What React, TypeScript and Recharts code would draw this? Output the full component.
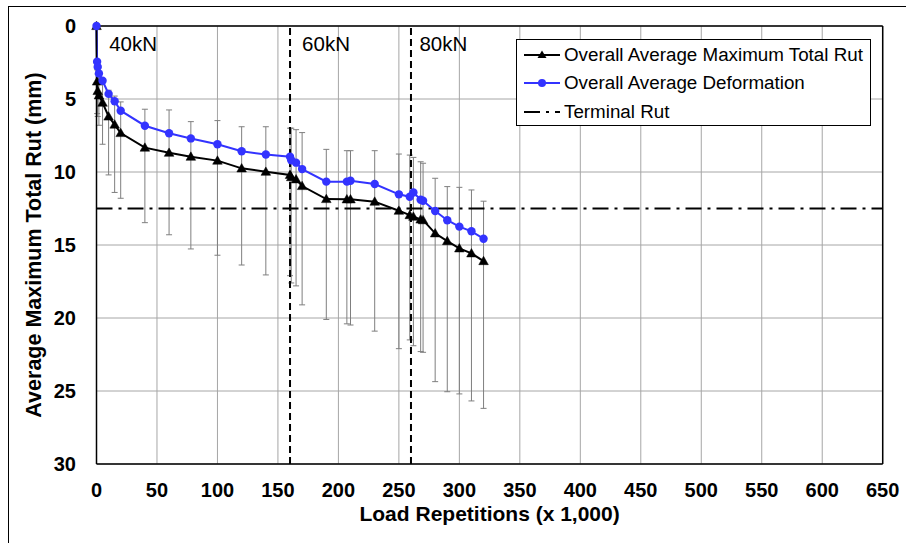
import React from 'react';
import {
  LineChart,
  Line,
  XAxis,
  YAxis,
  CartesianGrid,
  ReferenceLine,
  ReferenceDot,
  ErrorBar,
} from 'recharts';

// Load repetitions (x 1,000)
const loadReps = [0, 0.5, 1, 2, 5, 10, 15, 20, 40, 60, 78, 100, 120, 140, 160, 161, 165, 170, 190, 207, 210, 230, 250, 259, 262, 268, 270, 280, 290, 300, 310, 320];
// Overall Average Maximum Total Rut (mm)
const maxTotalRut = [0, 3.8, 4.45, 4.75, 5.25, 6.2, 6.75, 7.33, 8.33, 8.68, 8.95, 9.22, 9.75, 9.98, 10.2, 10.35, 10.5, 10.96, 11.85, 11.87, 11.87, 12.03, 12.65, 12.95, 13.06, 13.25, 13.3, 14.2, 14.73, 15.23, 15.57, 16.1];
// Overall Average Deformation (mm)
const avgDeformation = [0, 2.45, 2.8, 3.25, 3.75, 4.65, 5.15, 5.8, 6.83, 7.35, 7.7, 8.1, 8.58, 8.8, 8.95, 9.2, 9.36, 9.8, 10.66, 10.66, 10.6, 10.82, 11.53, 11.7, 11.4, 11.9, 11.97, 12.67, 13.3, 13.74, 14.06, 14.57];
// error bar extents (mm)
const errTop = [0, 3.0, 3.3, 3.5, 3.6, 4.4, 4.8, 5.2, 5.7, 5.75, 6.55, 6.48, 6.9, 6.9, 7.0, 7.0, 7.1, 7.3, 8.45, 8.54, 8.54, 8.54, 8.77, 8.84, 9.0, 9.3, 9.4, 10.43, 11.0, 11.05, 11.23, 12.0];
const errBottom = [0, 6.0, 6.2, 6.8, 8.1, 10.2, 11.4, 11.8, 13.47, 14.3, 15.27, 15.7, 16.37, 17.05, 17.1, 17.6, 17.8, 19.1, 20.1, 20.4, 20.48, 20.9, 22.1, 21.5, 21.9, 22.3, 22.35, 24.36, 25.05, 25.2, 25.68, 26.19];

const xTicks = [0, 50, 100, 150, 200, 250, 300, 350, 400, 450, 500, 550, 600, 650];
const yTicks = [0, 5, 10, 15, 20, 25, 30];
const terminalRut = 12.5;
const stageBoundaries = [160, 260];
const stageLabels = ['40kN', '60kN', '80kN'];
const stageLabelX = [10.5, 170, 267];
const stageLabelY = 1.23;

const seriesNames = ['Overall Average Maximum Total Rut', 'Overall Average Deformation', 'Terminal Rut'];

const BLUE = '#3333ff';
const FONT = '"Liberation Sans", Arial, sans-serif';
const DASHDOT = '16 6 3 6';

const data = loadReps.map((x, i) => ({
  x,
  rut: maxTotalRut[i],
  def: avgDeformation[i],
  err: [maxTotalRut[i] - errTop[i], errBottom[i] - maxTotalRut[i]],
}));

const TriangleDot = (props: any) => {
  const { cx, cy, index } = props;
  if (cx == null || cy == null) return <g key={`t-${index}`} />;
  const s = 4.8;
  return (
    <polygon
      key={`t-${index}`}
      points={`${cx},${cy - s} ${cx - s},${cy + s * 0.75} ${cx + s},${cy + s * 0.75}`}
      fill="#000"
      stroke="#000"
      strokeWidth={0.5}
    />
  );
};

const LegendBox = () => {
  const rows = [
    { label: seriesNames[0], kind: 'tri' },
    { label: seriesNames[1], kind: 'circ' },
    { label: seriesNames[2], kind: 'dash' },
  ];
  return (
    <div
      style={{
        position: 'absolute',
        left: 516,
        top: 39,
        width: 355,
        height: 87,
        boxSizing: 'border-box',
        border: '1px solid #000',
        background: '#fff',
        paddingTop: 1,
        paddingLeft: 7,
        fontFamily: FONT,
      }}
    >
      {rows.map((r) => (
        <div key={r.label} style={{ height: 28.3, display: 'flex', alignItems: 'center' }}>
          <svg width={36} height={20} style={{ display: 'block' }}>
            {r.kind === 'dash' ? (
              <line x1={0} y1={10} x2={36} y2={10} stroke="#000" strokeWidth={2} strokeDasharray="16 6 3 6" />
            ) : (
              <line x1={0} y1={10} x2={36} y2={10} stroke={r.kind === 'circ' ? BLUE : '#000'} strokeWidth={2} />
            )}
            {r.kind === 'tri' && <polygon points="18,5.5 13.5,13 22.5,13" fill="#000" />}
            {r.kind === 'circ' && <circle cx={18} cy={10} r={4} fill={BLUE} />}
          </svg>
          <span style={{ fontSize: 18.8, color: '#000', marginLeft: 4, whiteSpace: 'nowrap', lineHeight: '20px' }}>{r.label}</span>
        </div>
      ))}
    </div>
  );
};

export default function App() {
  return (
    <div style={{ position: 'absolute', left: 0, top: 0, width: 906, height: 543, background: '#fff' }}>
      <div
        style={{
          position: 'absolute',
          left: 8,
          top: 6,
          width: 898,
          height: 537,
          boxSizing: 'border-box',
          borderLeft: '1px solid #000',
          borderTop: '1px solid #000',
        }}
      />
      <LineChart
        width={906}
        height={543}
        data={data}
        margin={{ top: 26, right: 23.3, bottom: 19, left: 8 }}
        style={{ fontFamily: FONT }}
      >
        <CartesianGrid stroke="#a6a6a6" strokeWidth={1} />
        <XAxis
          dataKey="x"
          type="number"
          domain={[0, 650]}
          ticks={xTicks}
          interval={0}
          tickLine={false}
          tickSize={6}
          tickMargin={13}
          height={60}
          axisLine={{ stroke: '#000', strokeWidth: 1.5 }}
          tick={{ fill: '#000', fontSize: 20, fontWeight: 'bold', fontFamily: FONT }}
          label={{
            value: 'Load Repetitions (x 1,000)',
            position: 'insideBottom',
            offset: 3,
            fill: '#000',
            fontSize: 21,
            fontWeight: 'bold',
            fontFamily: FONT,
          }}
        />
        <YAxis
          type="number"
          reversed
          domain={[0, 30]}
          ticks={yTicks}
          interval={0}
          tickLine={false}
          tickSize={6}
          tickMargin={14.5}
          width={88.5}
          axisLine={{ stroke: '#000', strokeWidth: 1.5 }}
          tick={{ fill: '#000', fontSize: 20, fontWeight: 'bold', fontFamily: FONT }}
          label={{
            value: 'Average Maximum Total Rut (mm)',
            angle: -90,
            position: 'insideLeft',
            offset: 25,
            fill: '#000',
            fontSize: 21.5,
            fontWeight: 'bold',
            fontFamily: FONT,
            style: { textAnchor: 'middle' },
          }}
        />
        <ReferenceLine y={0} stroke="#000" strokeWidth={1.5} />
        <ReferenceLine x={650} stroke="#000" strokeWidth={1.5} />
        <Line
          dataKey="rut"
          stroke="none"
          dot={false}
          activeDot={false}
          legendType="none"
          isAnimationActive={false}
        >
          <ErrorBar dataKey="err" direction="y" width={3} stroke="#7f7f7f" strokeWidth={1} />
        </Line>
        {stageBoundaries.map((b) => (
          <ReferenceLine key={b} x={b} stroke="#000" strokeWidth={2} strokeDasharray="7 4" />
        ))}
        <ReferenceLine y={terminalRut} stroke="#000" strokeWidth={2} strokeDasharray={DASHDOT} />
        <Line
          dataKey="rut"
          name={seriesNames[0]}
          stroke="#000"
          strokeWidth={2}
          dot={TriangleDot}
          activeDot={false}
          isAnimationActive={false}
        />
        <Line
          dataKey="def"
          name={seriesNames[1]}
          stroke={BLUE}
          strokeWidth={2}
          dot={{ r: 4.2, fill: BLUE, stroke: BLUE, strokeWidth: 0 }}
          activeDot={false}
          isAnimationActive={false}
        />
        {stageLabels.map((lab, i) => (
          <ReferenceDot
            key={lab}
            x={stageLabelX[i]}
            y={stageLabelY}
            r={0}
            fill="none"
            stroke="none"
            label={{ value: lab, position: 'right', offset: 0, fill: '#000', fontSize: 20.5, fontFamily: FONT }}
          />
        ))}
      </LineChart>
      <LegendBox />
    </div>
  );
}
